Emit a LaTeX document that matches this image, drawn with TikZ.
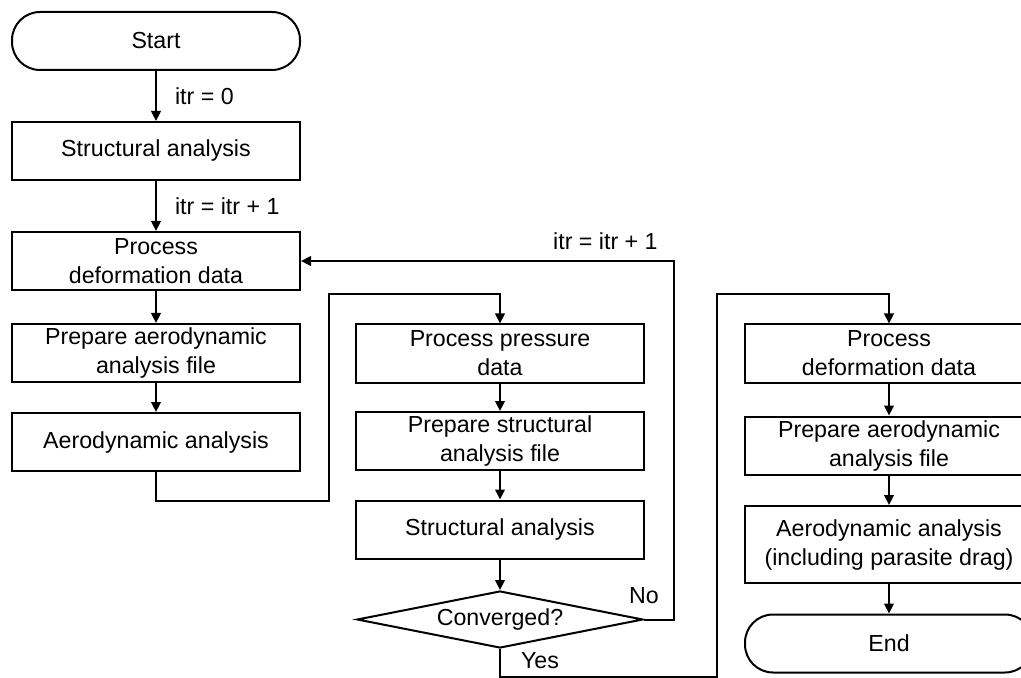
\documentclass[tikz,border=0pt]{standalone}
\usepackage{fontspec}
\setmainfont{Liberation Sans}
\usetikzlibrary{arrows.meta,positioning,shapes.geometric}

\begin{document}
\begin{tikzpicture}[
  x=0.5pt, y=-0.5pt,
  font=\fontsize{11.6}{14.5}\selectfont,
  proc/.style = {draw=black, line width=1pt, minimum width=144pt, minimum height=29pt,
                 align=center, inner sep=1pt},
  term/.style = {proc, rounded corners=14pt},
  dec/.style  = {draw=black, line width=1pt, diamond, aspect=5, inner sep=0pt,
                 minimum width=143pt, minimum height=28.5pt},
  ln/.style   = {-{Triangle[length=5pt, width=4.8pt]}, draw=black, line width=1pt},
  lbl/.style  = {inner sep=0pt},
]
\useasboundingbox (0,0) rectangle (1021,678);

% --- first pass: structure, then aerodynamics -----------------------------------------------------
\node[term] (start) at (156,41)  {Start};
\node[proc] (sa1)   at (156,151) {Structural analysis};
\node[proc] (pdd1)  at (156,261) {Process\\deformation data};
\node[proc] (pad1)  at (156,353) {Prepare aerodynamic\\analysis file};
\node[proc] (aa1)   at (156,442) {Aerodynamic analysis};

\draw[ln] (start) -- node[lbl, right=9pt] {itr = 0} (sa1);
\draw[ln] (sa1) -- node[lbl, right=9pt] {itr = itr + 1} (pdd1);
\draw[ln] (pdd1) -- (pad1);
\draw[ln] (pad1) -- (aa1);

% --- back to the structure, and the convergence test ----------------------------------------------
\node[proc] (ppd)  at (500,353.5) {Process pressure\\data};
\node[proc] (psa)  at (500,441)   {Prepare structural\\analysis file};
\node[proc] (sa2)  at (500,529.5) {Structural analysis};
\node[dec]  (conv) at (500,619.5) {Converged?};

\coordinate (jog1) at (329,294);
\draw[ln] (aa1.south) -- ++(0,29) -| (jog1) -| (ppd.north);
\draw[ln] (ppd) -- (psa);
\draw[ln] (psa) -- (sa2);
\draw[ln] (sa2) -- (conv);

% not converged: loop back into the deformation step
\coordinate (back) at (674,261);
\draw[ln] (conv.east) -| (back) -- (pdd1.east);
\node[lbl, anchor=south east] at ([xshift=-8pt, yshift=5.5pt]back) {itr = itr + 1};
\node[lbl] at ([yshift=12pt]conv.east) {No};

% --- converged: final aerodynamic pass ------------------------------------------------------------
\node[proc] (pdd2) at (889,353.5) {Process\\deformation data};
\node[proc] (pad2) at (889,445.5) {Prepare aerodynamic\\analysis file};
\node[proc, minimum height=38.5pt] (aa2) at (889,544.5)
  {Aerodynamic analysis\\(including parasite drag)};
\node[term] (end)  at (889,643.5) {End};

\coordinate (jog2) at (717,294);
\draw[ln] (conv.south) -- ++(0,28) -| (jog2) -| (pdd2.north);
\node[lbl] at ([xshift=20pt, yshift=-6pt]conv.south) {Yes};
\draw[ln] (pdd2) -- (pad2);
\draw[ln] (pad2) -- (aa2);
\draw[ln] (aa2) -- (end);

\end{tikzpicture}
\end{document}
